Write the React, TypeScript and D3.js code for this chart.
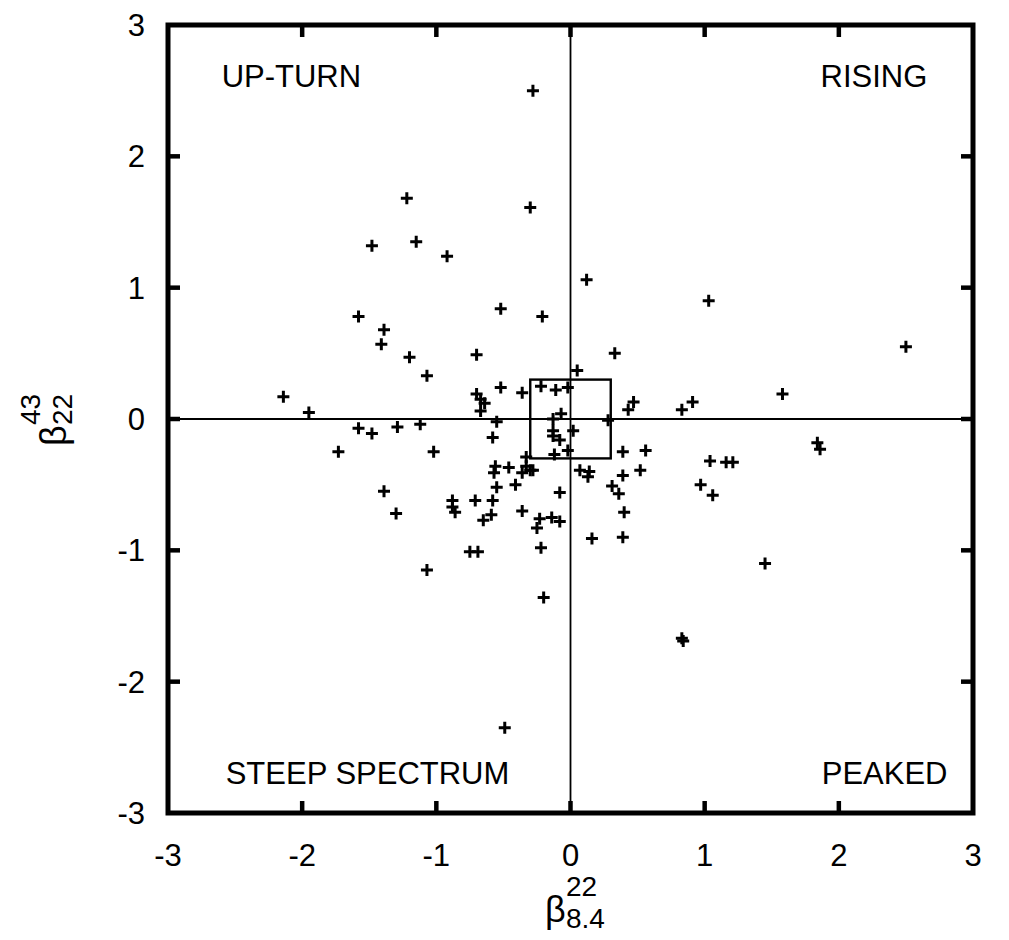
import * as d3 from "d3";

// spectral index pairs: x = beta(22, 8.4), y = beta(43, 22)
const betaX = [
  -0.28, -1.22, -0.3, -1.48, -1.15, -0.92, -0.52, -0.21, -1.58, -1.39, -1.41, -1.2, -0.7, -1.07,
  -2.14, -1.95, -0.7, -0.67, -0.64, -0.67, -0.52, -0.36, -0.22, -0.11, -0.02, -0.07, -0.13,
  0.05, 0.12, 1.03, 2.5, 0.33, 0.47, 0.43, 0.91, 0.83, 1.58,
  -0.55, -0.58, -1.58, -1.48, -1.29, -1.12, -0.13, -0.13, -0.08, -0.12, -0.02, -1.73, -1.02,
  -0.33, -0.33, -0.3, -0.28, -0.36, -0.56, -0.57, -0.46, -0.55, -0.41, -0.08, -1.39, -1.3,
  -0.88, -0.88, -0.86, -0.71, -0.58, -0.59, -0.65, -0.36, -0.23, -0.14, -0.08, -0.25, -0.75,
  -0.69, -0.22, -1.07, -0.2, -0.49,
  0.02, 0.28, 0.39, 0.56, 0.07, 0.14, 0.13, 0.39, 0.52, 0.31, 0.36, 0.4, 0.16, 0.39, 1.04,
  1.16, 1.21, 0.97, 1.06, 1.84, 1.86, 1.45, 0.83, 0.84,
];
const betaY = [
  2.5, 1.68, 1.61, 1.32, 1.35, 1.24, 0.84, 0.78, 0.78, 0.68, 0.57, 0.47, 0.49, 0.33,
  0.17, 0.05, 0.19, 0.15, 0.12, 0.06, 0.24, 0.2, 0.25, 0.22, 0.24, 0.04, 0.0,
  0.37, 1.06, 0.9, 0.55, 0.5, 0.13, 0.07, 0.13, 0.07, 0.19,
  -0.02, -0.14, -0.07, -0.11, -0.06, -0.04, -0.09, -0.13, -0.16, -0.27, -0.24, -0.25, -0.25,
  -0.29, -0.36, -0.39, -0.39, -0.41, -0.36, -0.41, -0.37, -0.52, -0.5, -0.56, -0.55, -0.72,
  -0.62, -0.67, -0.71, -0.62, -0.62, -0.73, -0.77, -0.7, -0.76, -0.75, -0.78, -0.83, -1.01,
  -1.01, -0.98, -1.15, -1.36, -2.35,
  -0.09, -0.01, -0.25, -0.24, -0.39, -0.4, -0.44, -0.43, -0.39, -0.51, -0.57, -0.71, -0.91, -0.9, -0.32,
  -0.33, -0.33, -0.5, -0.58, -0.18, -0.23, -1.1, -1.67, -1.69,
];

const tickValues = [-3, -2, -1, 0, 1, 2, 3];
const quadrantNames = ["UP-TURN", "RISING", "STEEP SPECTRUM", "PEAKED"];
const quadrantX = [-2.6, 2.66, -2.57, 2.81];
const quadrantY = [2.53, 2.53, -2.78, -2.78];
const flatBox = [-0.3, 0.3]; // the small square around the origin

const font = "'Liberation Sans', Arial, Helvetica, sans-serif";

// beta with a superscript and a subscript, (0,0) = beta baseline start
function BetaLabel({ sup, sub }: { sup: string; sub: string }) {
  return (
    <g>
      <text x={0} y={0} fontSize={36}>β</text>
      <text x={21} y={-26} fontSize={28}>{sup}</text>
      <text x={21} y={6} fontSize={28}>{sub}</text>
    </g>
  );
}

export default function App() {
  const x = d3.scaleLinear().domain([-3, 3]).range([168, 973]);
  const y = d3.scaleLinear().domain([-3, 3]).range([813, 25]);

  const points = betaX.map((v, i) => [v, betaY[i]]);
  const arm = 6;

  return (
    <svg
      width={1009}
      height={940}
      style={{ position: "absolute", left: 0, top: 0, background: "#fff" }}
      fontFamily={font}
    >
      {/* zero lines */}
      <line x1={x(-3)} x2={x(3)} y1={y(0)} y2={y(0)} stroke="#000" strokeWidth={1.8} />
      <line x1={x(0)} x2={x(0)} y1={y(-3)} y2={y(3)} stroke="#000" strokeWidth={1.8} />

      {/* box */}
      <rect
        x={x(flatBox[0])}
        y={y(flatBox[1])}
        width={x(flatBox[1]) - x(flatBox[0])}
        height={y(flatBox[0]) - y(flatBox[1])}
        fill="none"
        stroke="#000"
        strokeWidth={2.4}
      />

      {/* ticks */}
      {tickValues.slice(1, -1).map((t) => (
        <g key={"t" + t} stroke="#000" strokeWidth={4.5}>
          <line x1={x(t)} x2={x(t)} y1={y(-3)} y2={y(-3) - 12} />
          <line x1={x(t)} x2={x(t)} y1={y(3)} y2={y(3) + 12} />
          <line x1={x(-3)} x2={x(-3) + 12} y1={y(t)} y2={y(t)} />
          <line x1={x(3)} x2={x(3) - 12} y1={y(t)} y2={y(t)} />
        </g>
      ))}

      {/* frame */}
      <rect
        x={x(-3)}
        y={y(3)}
        width={x(3) - x(-3)}
        height={y(-3) - y(3)}
        fill="none"
        stroke="#000"
        strokeWidth={5}
      />

      {/* points */}
      <g stroke="#000" strokeWidth={3}>
        {points.map(([px, py], i) => (
          <path
            key={i}
            d={`M${x(px) - arm},${y(py)}H${x(px) + arm}M${x(px)},${y(py) - arm}V${y(py) + arm}`}
          />
        ))}
      </g>

      {/* tick labels */}
      {tickValues.map((t) => (
        <text key={"xl" + t} x={x(t)} y={866} textAnchor="middle" fontSize={31}>
          {t}
        </text>
      ))}
      {tickValues.map((t) => (
        <text key={"yl" + t} x={145} y={y(t) + 11} textAnchor="end" fontSize={31}>
          {t}
        </text>
      ))}

      {/* quadrant labels */}
      {quadrantNames.map((name, i) => (
        <text
          key={name}
          x={x(quadrantX[i])}
          y={y(quadrantY[i])}
          textAnchor={quadrantX[i] < 0 ? "start" : "end"}
          fontSize={31}
        >
          {name}
        </text>
      ))}

      {/* x axis label */}
      <g transform="translate(545,922)">
        <BetaLabel sup="22" sub="8.4" />
      </g>

      {/* y axis label */}
      <g transform="translate(66,446) rotate(-90)">
        <BetaLabel sup="43" sub="22" />
      </g>
    </svg>
  );
}
